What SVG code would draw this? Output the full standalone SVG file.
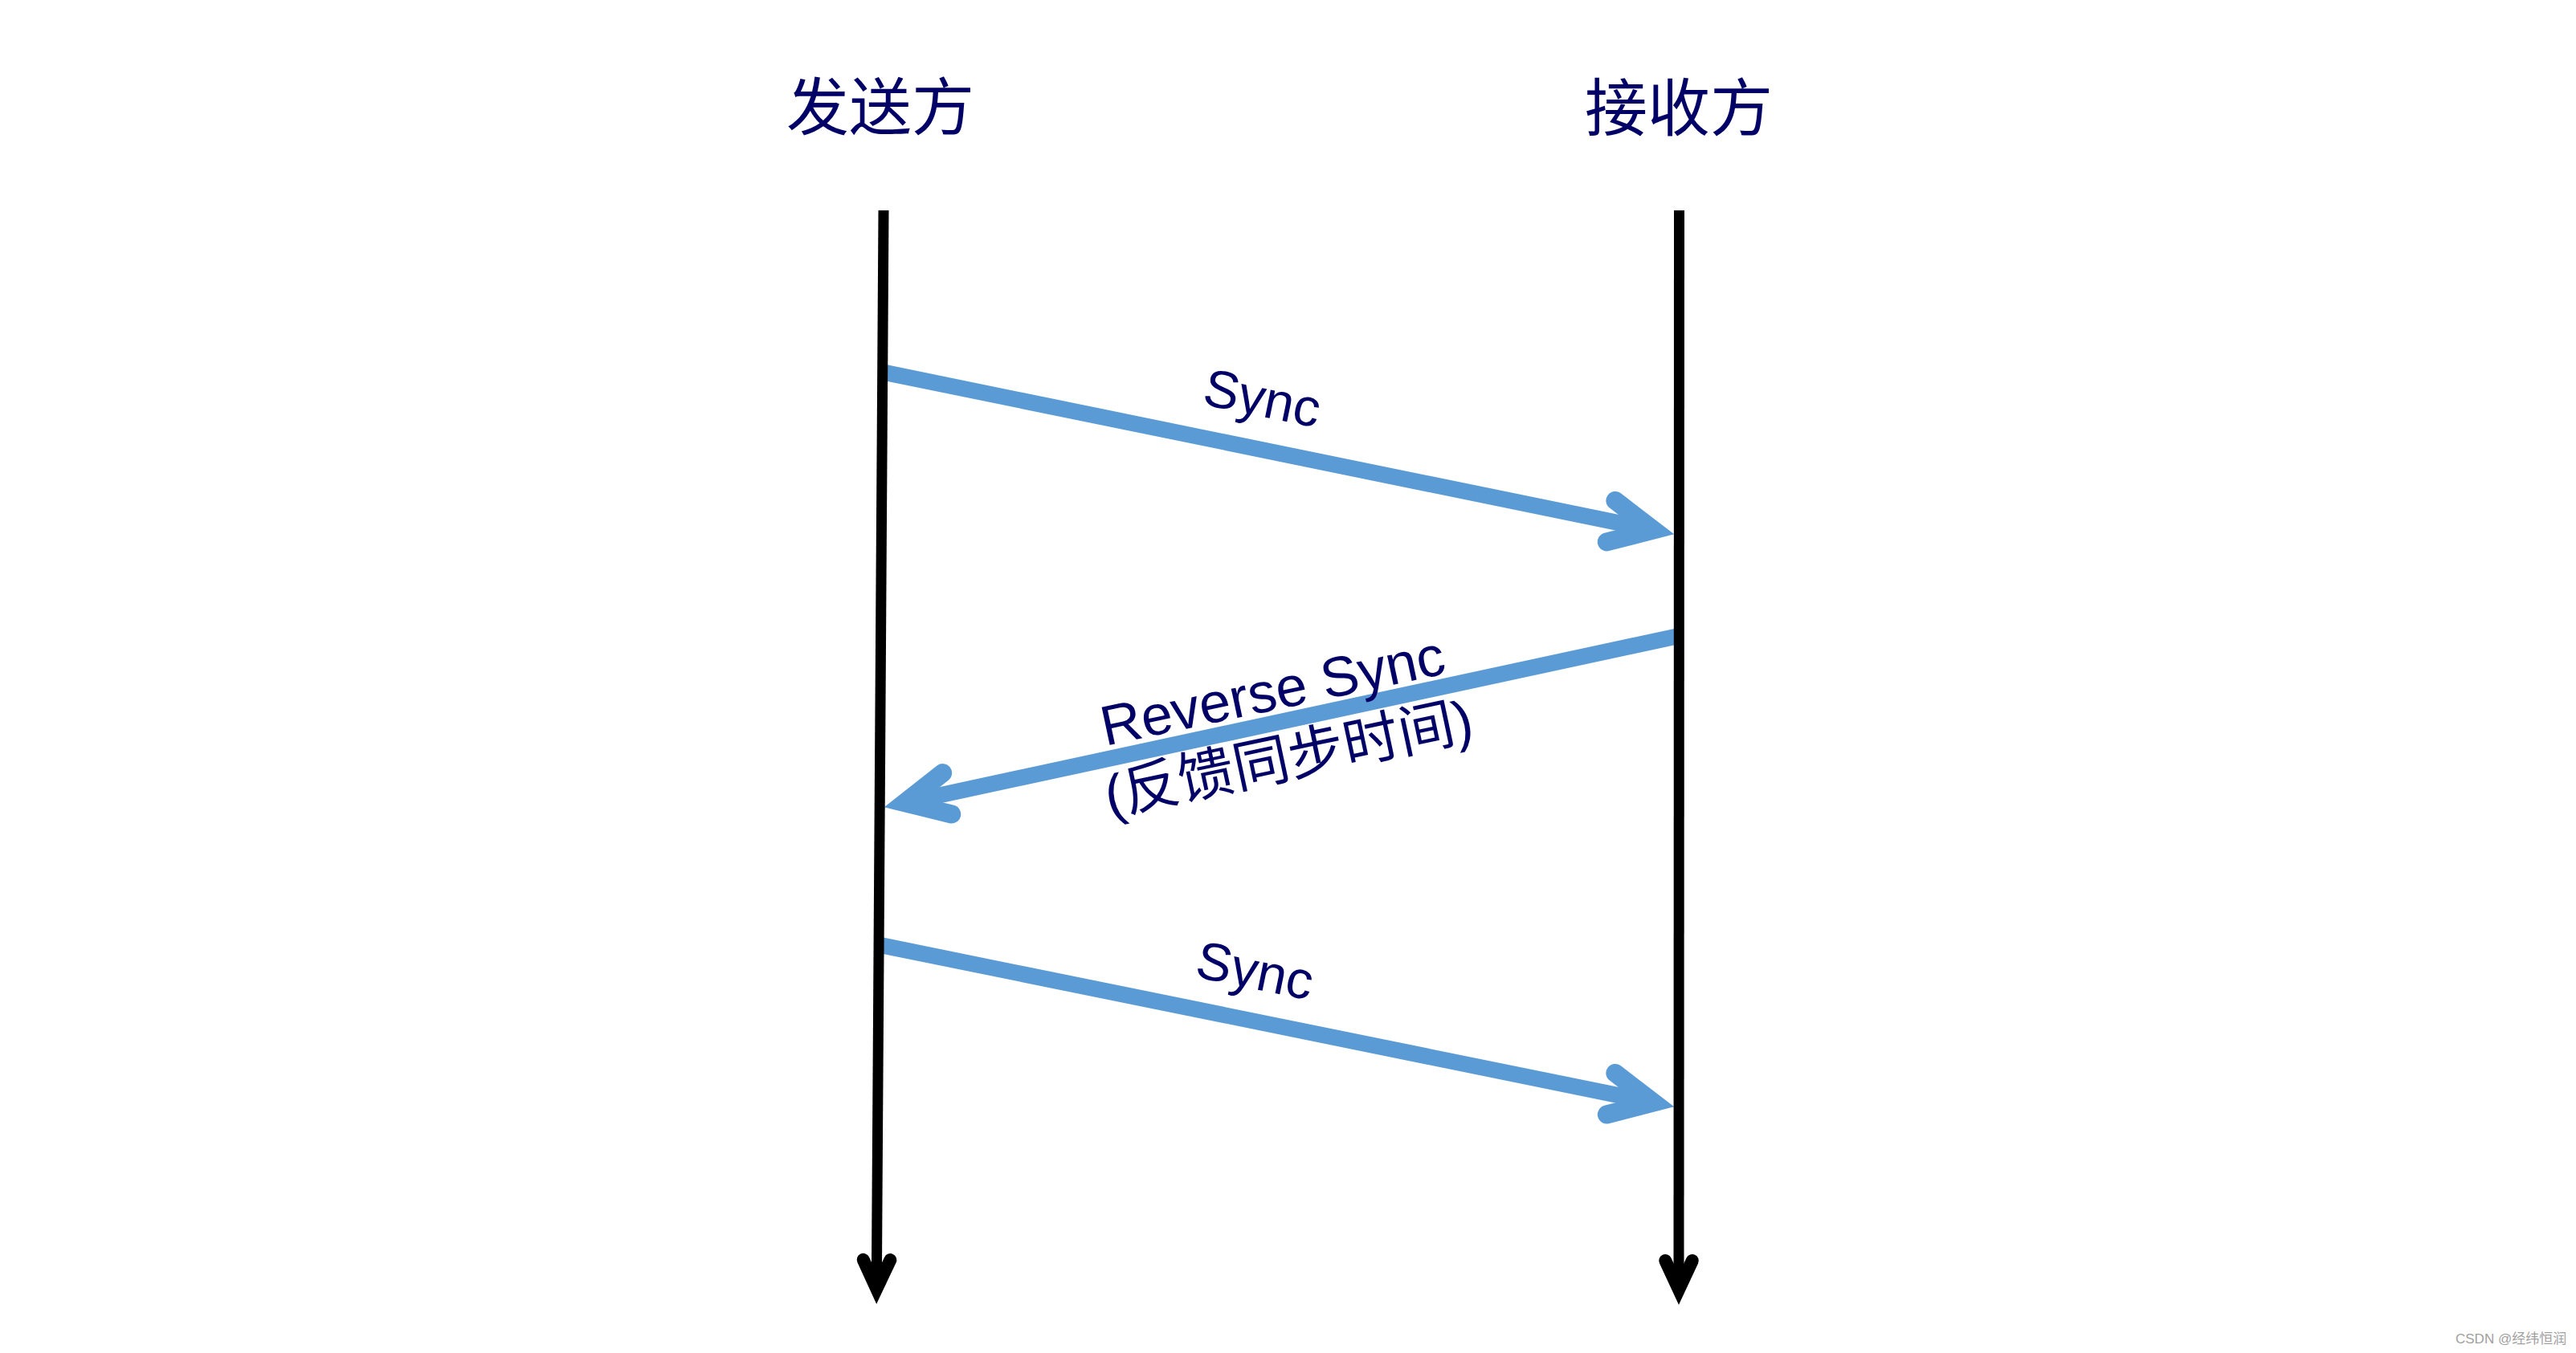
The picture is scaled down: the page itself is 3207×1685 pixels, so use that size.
<svg xmlns="http://www.w3.org/2000/svg" width="3207" height="1685" viewBox="0 0 3207 1685">
  <style>
    .head { font-family: "Noto Sans CJK SC", sans-serif; font-size: 78px; fill: #000066; text-anchor: middle; }
    .lbl { font-family: "Liberation Sans", "Noto Sans CJK SC", sans-serif; fill: #000066; }
    .life { stroke: #000000; stroke-width: 13; fill: none; }
    .msg { stroke: #5B9BD5; stroke-width: 20; fill: none; }
    .wm { font-family: "Liberation Sans", "Noto Sans CJK SC", sans-serif; font-size: 17px; fill: #a0a0a0; }
  </style>
  <defs>
    <marker id="blueHead" markerUnits="userSpaceOnUse" orient="auto" refX="0" refY="0" markerWidth="10" markerHeight="10" style="overflow:visible">
      <path d="M -54 -26.3 L 0 0 L -54 26.3" fill="none" stroke="#5B9BD5" stroke-width="23" stroke-linejoin="miter" stroke-miterlimit="10" stroke-linecap="round"/>
    </marker>
    <marker id="blackHead" markerUnits="userSpaceOnUse" orient="auto" refX="0" refY="0" markerWidth="10" markerHeight="10" style="overflow:visible">
      <path d="M -36 -16.8 L 0 0 L -36 16.8" fill="none" stroke="#000000" stroke-width="16" stroke-linejoin="miter" stroke-miterlimit="10" stroke-linecap="round"/>
    </marker>
  </defs>
  <rect width="3207" height="1685" fill="#ffffff"/>

  <g id="connectors">
    <g id="msg1">
      <line class="msg" x1="1100" y1="463.6" x2="2058.5" y2="660" marker-end="url(#blueHead)"/>
      <text class="lbl" font-size="66" text-anchor="middle" transform="translate(1567,518) rotate(11.6)">Sync</text>
    </g>
    <g id="msg2">
      <line class="msg" x1="2090" y1="792" x2="1126.4" y2="999.7" marker-end="url(#blueHead)"/>
      <text class="lbl" font-size="70" transform="translate(1376,929) rotate(-12)">Reverse Sync</text>
      <text class="lbl" font-size="70" transform="translate(1381,1016) rotate(-12)">(反馈同步时间)</text>
    </g>
    <g id="msg3">
      <line class="msg" x1="1094" y1="1176.6" x2="2058.5" y2="1373" marker-end="url(#blueHead)"/>
      <text class="lbl" font-size="66" text-anchor="middle" transform="translate(1558,1231) rotate(11.5)">Sync</text>
    </g>
  </g>

  <g id="sender">
    <text class="head" x="1096" y="162">发送方</text>
    <line class="life" x1="1100" y1="262" x2="1091.3" y2="1605" marker-end="url(#blackHead)"/>
  </g>

  <g id="receiver">
    <text class="head" x="2090" y="163">接收方</text>
    <line class="life" x1="2090.5" y1="262" x2="2090" y2="1606" marker-end="url(#blackHead)"/>
  </g>

  <text class="wm" x="3057" y="1673">CSDN @经纬恒润</text>
</svg>
